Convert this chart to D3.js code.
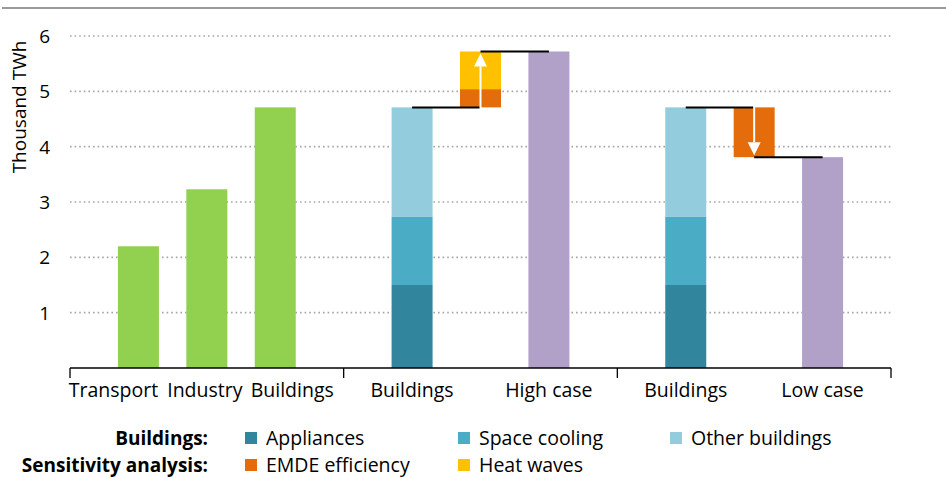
<!DOCTYPE html>
<html>
<head>
<meta charset="utf-8">
<script src="https://cdn.jsdelivr.net/npm/d3@7"></script>
<style>
  body { margin: 0; background: #fff; }
  svg text { font-family: "Open Sans", sans-serif; fill: #000; }
</style>
</head>
<body>
<div id="chart"></div>
<script>
const sectorNames = ["Transport", "Industry", "Buildings"];
const sectorValues = [2.2, 3.23, 4.71];
const buildingParts = ["Appliances", "Space cooling", "Other buildings"];
const buildingValues = [1.5, 1.23, 1.98];
const sensitivityNames = ["EMDE efficiency", "Heat waves"];
const highSteps = [0.33, 0.68];
const lowSteps = [-0.9];
const caseNames = ["High case", "Low case"];
const caseValues = [5.72, 3.81];
const yTicks = [1, 2, 3, 4, 5, 6];

const partColors = ["#31859c", "#4bacc6", "#93cddd"];
const sensColors = ["#e46c0a", "#ffc000"];
const GREEN = "#92d050";
const PURPLE = "#b1a0c7";

const width = 946, height = 478;
const BAR_W = 41;

const svg = d3.select("#chart").append("svg")
  .attr("width", width).attr("height", height);

// slots: group boundaries s0..s3, bars between
const slots = ["s0", "t0", "t1", "t2", "s1", "h0", "h1", "h2", "s2", "l0", "l1", "l2", "s3"];
const x = d3.scalePoint().domain(slots).range([70, 891]);
const y = d3.scaleLinear().domain([0, 6]).range([368, 36]);

svg.append("line")
  .attr("x1", 2).attr("x2", width).attr("y1", 8).attr("y2", 8)
  .attr("stroke", "#999").attr("stroke-width", 2);

// gridlines
svg.append("g").selectAll("line").data(yTicks).join("line")
  .attr("x1", 70).attr("x2", 891)
  .attr("y1", d => y(d)).attr("y2", d => y(d))
  .attr("stroke", "#a6a6a6").attr("stroke-width", 1.6)
  .attr("stroke-dasharray", "1.6,3");

svg.append("g").selectAll("text").data(yTicks).join("text")
  .attr("x", 50).attr("y", d => y(d)).attr("dy", "0.36em")
  .attr("text-anchor", "end").attr("font-size", 19)
  .text(d => d);

svg.append("text")
  .attr("transform", "translate(26,107) rotate(-90)")
  .attr("text-anchor", "middle").attr("font-size", 19)
  .text("Thousand TWh");

const bars = svg.append("g");

// sectors
bars.selectAll("rect.sector").data(sectorValues).join("rect")
  .attr("class", "sector")
  .attr("x", (d, i) => x("t" + i) - BAR_W / 2).attr("width", BAR_W)
  .attr("y", d => y(d)).attr("height", d => y(0) - y(d))
  .attr("fill", GREEN);

// stacked buildings bars
const stack = [];
let acc = 0;
buildingValues.forEach((v, i) => { stack.push({ y0: acc, y1: acc + v, i }); acc += v; });
const buildingsTotal = acc;
["h0", "l0"].forEach(slot => {
  bars.append("g").selectAll("rect").data(stack).join("rect")
    .attr("x", x(slot) - BAR_W / 2).attr("width", BAR_W)
    .attr("y", d => y(d.y1)).attr("height", d => y(d.y0) - y(d.y1))
    .attr("fill", d => partColors[d.i]);
});

// step bars
function stepBar(slot, steps) {
  let base = buildingsTotal;
  const segs = steps.map((v, i) => {
    const s = { y0: base, y1: base + v, i };
    base += v;
    return s;
  });
  bars.append("g").selectAll("rect").data(segs).join("rect")
    .attr("x", x(slot) - BAR_W / 2).attr("width", BAR_W)
    .attr("y", d => y(Math.max(d.y0, d.y1)))
    .attr("height", d => Math.abs(y(d.y0) - y(d.y1)))
    .attr("fill", d => sensColors[d.i]);
  return base;
}
const highEnd = stepBar("h1", highSteps);
const lowEnd = stepBar("l1", lowSteps);

// cases
bars.selectAll("rect.case").data(caseValues).join("rect")
  .attr("class", "case")
  .attr("x", (d, i) => x(["h2", "l2"][i]) - BAR_W / 2).attr("width", BAR_W)
  .attr("y", d => y(d)).attr("height", d => y(0) - y(d))
  .attr("fill", PURPLE);

// connectors
const connectors = [
  { a: "h0", b: "h1", v: buildingsTotal },
  { a: "h1", b: "h2", v: highEnd },
  { a: "l0", b: "l1", v: buildingsTotal },
  { a: "l1", b: "l2", v: lowEnd }
];
svg.append("g").selectAll("line").data(connectors).join("line")
  .attr("x1", d => x(d.a)).attr("x2", d => x(d.b))
  .attr("y1", d => y(d.v)).attr("y2", d => y(d.v))
  .attr("stroke", "#000").attr("stroke-width", 2);

// arrows
function arrow(slot, from, to) {
  const cx = x(slot);
  const y0 = y(from), y1 = y(to);
  const dir = y1 < y0 ? -1 : 1;
  const head = 13;
  const tip = y1 - dir * 2;
  svg.append("line")
    .attr("x1", cx).attr("x2", cx)
    .attr("y1", y0 - dir * 3).attr("y2", tip - dir * head)
    .attr("stroke", "#fff").attr("stroke-width", 2);
  svg.append("path")
    .attr("d", `M${cx},${tip} L${cx - 6.5},${tip - dir * head} L${cx + 6.5},${tip - dir * head} Z`)
    .attr("fill", "#fff");
}
arrow("h1", buildingsTotal, highEnd);
arrow("l1", buildingsTotal, lowEnd);

// x axis
svg.append("line")
  .attr("x1", 70).attr("x2", 891).attr("y1", y(0)).attr("y2", y(0))
  .attr("stroke", "#000").attr("stroke-width", 1.3);
svg.append("g").selectAll("line").data(["s0", "s1", "s2", "s3"]).join("line")
  .attr("x1", d => x(d)).attr("x2", d => x(d))
  .attr("y1", y(0)).attr("y2", y(0) + 10)
  .attr("stroke", "#000").attr("stroke-width", 1.3);

// first group's labels are nudged apart so they do not collide
const xLabels = [
  ["t0", sectorNames[0], -25], ["t1", sectorNames[1], -2], ["t2", sectorNames[2], 17],
  ["h0", "Buildings", 0], ["h2", caseNames[0], 0],
  ["l0", "Buildings", 0], ["l2", caseNames[1], 0]
];
svg.append("g").selectAll("text").data(xLabels).join("text")
  .attr("x", d => x(d[0]) + d[2]).attr("y", 397)
  .attr("text-anchor", "middle").attr("font-size", 19.5)
  .text(d => d[1]);

// legend
const legend = svg.append("g");
legend.append("text").attr("x", 208).attr("y", 445)
  .attr("text-anchor", "end").attr("font-size", 19).attr("font-weight", "bold")
  .text("Buildings:");
legend.append("text").attr("x", 208).attr("y", 472)
  .attr("text-anchor", "end").attr("font-size", 19).attr("font-weight", "bold")
  .text("Sensitivity analysis:");
const legendCols = [245, 458, 670];
const items = buildingParts.map((n, i) => ({ n, c: partColors[i], col: i, row: 0 }))
  .concat(sensitivityNames.map((n, i) => ({ n, c: sensColors[i], col: i, row: 1 })));
const li = legend.selectAll("g.item").data(items).join("g")
  .attr("transform", d => `translate(${legendCols[d.col]},${438 + d.row * 27})`);
li.append("rect").attr("x", 0).attr("y", -6).attr("width", 12).attr("height", 12)
  .attr("fill", d => d.c);
li.append("text").attr("x", 21).attr("y", 7).attr("font-size", 19.5)
  .text(d => d.n);
</script>
</body>
</html>
